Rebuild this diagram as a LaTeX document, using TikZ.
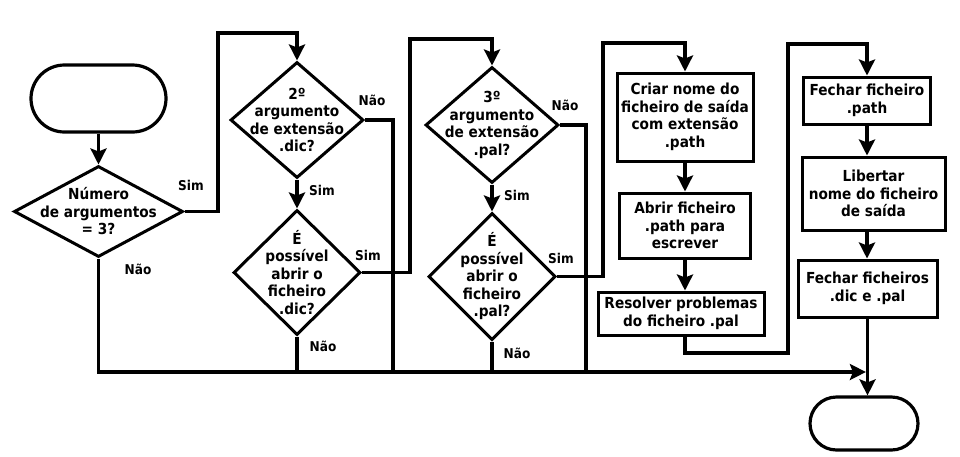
\documentclass[tikz,border=0pt]{standalone}
\usepackage{fontspec}
\setmainfont{DejaVu Sans Condensed}
\usetikzlibrary{shapes.geometric}
\usetikzlibrary{shapes.misc}
\usetikzlibrary{arrows.meta}
\tikzset{
every node/.style={ % Bold text, lines centred
font=\bfseries\fontsize{15.2}{17.5}\selectfont,
align=center},
terminal/.style={ % Start and end of the chart
draw, rounded rectangle, line width=3.2pt, inner sep=0pt},
decision/.style={ % Diamonds, the question goes in as a centre label
draw, diamond, line width=3pt, inner sep=0pt},
process/.style={
draw, rectangle, line width=3pt, inner sep=0pt},
answer/.style={font=\bfseries\fontsize{13.5}{15}\selectfont},
line/.style={line width=3.3pt},
flow/.style={ % Connectors with a heavy arrow head
line width=3.3pt,
-{Stealth[length=16pt,width=16pt,inset=3pt]}}}

\begin{document}
\begin{tikzpicture}[x=1pt, y=-1pt]
\useasboundingbox (0,0) rectangle (960,456);
\node[terminal, minimum width=135pt, minimum height=67pt] (start) at (98.5,98.5) {};
\node[decision, minimum width=169pt, minimum height=91pt,
  label={center:{Número\\de argumentos\\= 3?}}] (d1) at (98.5,211.5) {};
\node[decision, minimum width=133pt, minimum height=116pt,
  label={center:{2º\\argumento\\de extensão\\.dic?}}] (d2) at (297,120) {};
\node[decision, minimum width=127pt, minimum height=125pt,
  label={center:{É\\possível\\abrir o\\ficheiro\\.dic?}}] (d3) at (297,272.5) {};
\node[decision, minimum width=133pt, minimum height=116pt,
  label={center:{3º\\argumento\\de extensão\\.pal?}}] (d4) at (492,125) {};
\node[decision, minimum width=127pt, minimum height=127pt,
  label={center:{É\\possível\\abrir o\\ficheiro\\.pal?}}] (d5) at (492,276.5) {};
\node[process, minimum width=136pt, minimum height=88pt] (b1) at (685,117) {Criar nome do\\ficheiro de saída\\com extensão\\.path};
\node[process, minimum width=131pt, minimum height=65pt] (b2) at (685,225.5) {Abrir ficheiro\\.path para\\escrever};
\node[process, minimum width=166pt, minimum height=43pt] (b3) at (681,313.5) {Resolver problemas\\do ficheiro .pal};
\node[process, minimum width=127pt, minimum height=47pt] (b4) at (867,100.5) {Fechar ficheiro\\.path};
\node[process, minimum width=143pt, minimum height=73pt] (b5) at (873.5,193.5) {Libertar\\nome do ficheiro\\de saída};
\node[process, minimum width=139pt, minimum height=57pt] (b6) at (867.5,288.5) {Fechar ficheiros\\.dic e .pal};
\node[terminal, minimum width=108pt, minimum height=53pt] (end) at (864,423.5) {};
% bends of the connectors
\coordinate (bus) at (0,372);
\coordinate (j1) at (218,33);
\coordinate (j2) at (410,39);
\coordinate (j3) at (603,43);
\coordinate (j4) at (788,353);
\coordinate (j5) at (788,44);
\coordinate (n2) at (393,372);
\coordinate (n4) at (586,372);
% answers
\node[answer] (s1) at (191,185) {Sim};
\node[answer] (n1) at (138,269) {Não};
\node[answer] (nd2) at (372,100) {Não};
\node[answer] (sd2) at (322,190) {Sim};
\node[answer] (sd3) at (368,255) {Sim};
\node[answer] (nd3) at (323,346) {Não};
\node[answer] (nd4) at (565,105) {Não};
\node[answer] (sd4) at (517,195) {Sim};
\node[answer] (sd5) at (561,258) {Sim};
\node[answer] (nd5) at (517,353) {Não};
\draw[flow] (start) -- (d1);
\draw[flow] (d1.east) -| (j1) -| (d2.north);
\draw[flow, shorten >=1.6pt] (d1.south) -- (d1.south |- bus) -- (bus -| b6.south);
\draw[line] (d2.east) -| (n2);
\draw[flow] (d2) -- (d3);
\draw[line] (d3.south) -- (d3.south |- bus);
\draw[flow] (d3.east) -| (j2) -| (d4.north);
\draw[line] (d4.east) -| (n4);
\draw[flow] (d4) -- (d5);
\draw[line] (d5.south) -- (d5.south |- bus);
\draw[flow] (d5.east) -| (j3) -| (b1.north);
\draw[flow] (b1) -- (b2);
\draw[flow] (b2.south) -- (b2.south |- b3.north);
\draw[flow] (b2.south |- b3.south) |- (j4) -- (j5) -| (b4.north);
\draw[flow] (b4.south) -- (b4.south |- b5.north);
\draw[flow] (b4.south |- b5.south) -- (b4.south |- b6.north);
\draw[flow] (b6.south) -- (b6.south |- end.north);
\end{tikzpicture}
\end{document}
